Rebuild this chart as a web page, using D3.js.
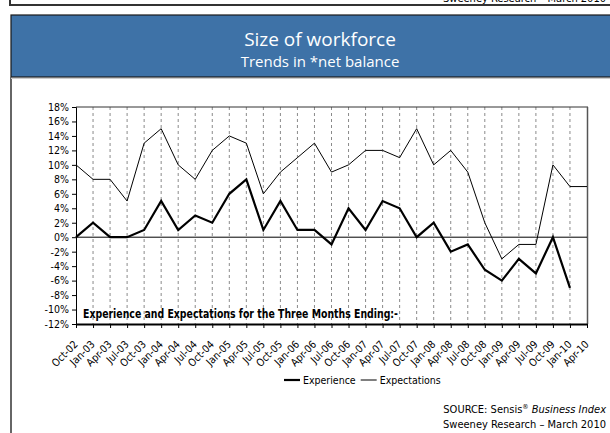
<!DOCTYPE html>
<html>
<head>
<meta charset="utf-8">
<script src="https://cdn.jsdelivr.net/npm/d3@7"></script>
<style>
  body { margin: 0; background: #fff; }
  svg { display: block; }
  .cond { font-family: "Liberation Sans Narrow", "DejaVu Sans Condensed", "Roboto", sans-serif; }
</style>
</head>
<body>
<div id="chart"></div>
<script>
// quarterly categories, Oct-02 .. Apr-10
const categories = ['Oct-02','Jan-03','Apr-03','Jul-03','Oct-03','Jan-04','Apr-04','Jul-04','Oct-04',
  'Jan-05','Apr-05','Jul-05','Oct-05','Jan-06','Apr-06','Jul-06','Oct-06','Jan-07','Apr-07','Jul-07',
  'Oct-07','Jan-08','Apr-08','Jul-08','Oct-08','Jan-09','Apr-09','Jul-09','Oct-09','Jan-10','Apr-10'];

const experience = [0, 2, 0, 0, 1, 5, 1, 3, 2, 6, 8, 1, 5, 1, 1, -1, 4, 1, 5, 4,
  0, 2, -2, -1, -4.5, -6, -3, -5, 0, -7, null];

const expectations = [10, 8, 8, 5, 13, 15, 10, 8, 12, 14, 13, 6, 9, 11, 13, 9, 10, 12, 12, 11,
  15, 10, 12, 9, 2, -3, -1, -1, 10, 7, 7];

const yTicks = [-12, -10, -8, -6, -4, -2, 0, 2, 4, 6, 8, 10, 12, 14, 16, 18];

const W = 610, H = 433;
const svg = d3.select('#chart').append('svg')
  .attr('width', W)
  .attr('height', H);

// previous slide's footer strip at the very top
svg.append('rect')
  .attr('x', 10).attr('y', -10).attr('width', 610).attr('height', 15)
  .attr('fill', '#fff').attr('stroke', '#333').attr('stroke-width', 2);
svg.append('text')
  .attr('class', 'cond')
  .attr('x', 606).attr('y', 2)
  .attr('text-anchor', 'end')
  .attr('font-size', 11)
  .text('Sweeney Research – March 2010');

// header band
svg.append('rect')
  .attr('x', 11).attr('y', 15).attr('width', 610).attr('height', 62)
  .attr('fill', '#3e72a7').attr('stroke', '#1a1a1a').attr('stroke-width', 1.2);
svg.append('text')
  .attr('x', 320).attr('y', 46)
  .attr('text-anchor', 'middle')
  .attr('fill', '#fff')
  .attr('font-family', 'Open Sans, sans-serif')
  .attr('font-size', 19)
  .text('Size of workforce');
svg.append('text')
  .attr('x', 320).attr('y', 67)
  .attr('text-anchor', 'middle')
  .attr('fill', '#fff')
  .attr('font-family', 'Open Sans, sans-serif')
  .attr('font-size', 15)
  .text('Trends in *net balance');

// panel left border + faint line under header
svg.append('line')
  .attr('x1', 11).attr('x2', 11).attr('y1', 77).attr('y2', H)
  .attr('stroke', '#666').attr('stroke-width', 2);
svg.append('line')
  .attr('x1', 11).attr('x2', W).attr('y1', 78.5).attr('y2', 78.5)
  .attr('stroke', '#ccc').attr('stroke-width', 1);

// scales
const x = d3.scalePoint()
  .domain(categories)
  .range([76, 587]);

const y = d3.scaleLinear()
  .domain([-12, 18])
  .range([324, 107]);

// vertical dashed gridlines
svg.append('g')
  .selectAll('line')
  .data(categories.slice(1, -1))
  .enter().append('line')
  .attr('x1', d => x(d)).attr('x2', d => x(d))
  .attr('y1', y(18)).attr('y2', y(-12))
  .attr('stroke', '#8a8a8a')
  .attr('stroke-width', 1)
  .attr('stroke-dasharray', '3,3');

// frame top + right
svg.append('line')
  .attr('x1', 76).attr('x2', 588).attr('y1', y(18)).attr('y2', y(18))
  .attr('stroke', '#333').attr('stroke-width', 1);
svg.append('line')
  .attr('x1', 587.5).attr('x2', 587.5).attr('y1', y(18)).attr('y2', y(-12))
  .attr('stroke', '#555').attr('stroke-width', 1.5);

// zero line
svg.append('line')
  .attr('x1', 76).attr('x2', 587).attr('y1', y(0)).attr('y2', y(0))
  .attr('stroke', '#000').attr('stroke-width', 1);

// annotation
svg.append('text')
  .attr('class', 'cond')
  .attr('x', 83).attr('y', 318)
  .attr('font-size', 12.5)
  .attr('font-weight', 'bold')
  .attr('textLength', 315)
  .attr('lengthAdjust', 'spacingAndGlyphs')
  .text('Experience and Expectations for the Three Months Ending:-');

// y axis
const yAxis = svg.append('g')
  .attr('transform', 'translate(76,0)')
  .call(d3.axisLeft(y).tickValues(yTicks).tickSize(4).tickPadding(3).tickFormat(d => d + '%'));
yAxis.selectAll('text')
  .attr('class', 'cond')
  .attr('font-size', 10.5)
  .attr('fill', '#000');
yAxis.selectAll('line, path').attr('stroke', '#000');

// x axis
const xAxis = svg.append('g')
  .attr('transform', `translate(0,${y(-12)})`)
  .call(d3.axisBottom(x).tickSize(4).tickSizeOuter(0));
xAxis.select('.domain').attr('stroke', '#000').attr('stroke-width', 2.2);
xAxis.selectAll('line').attr('stroke', '#000');
xAxis.selectAll('text')
  .attr('class', 'cond')
  .attr('font-size', 10.5)
  .attr('fill', '#000')
  .attr('text-anchor', 'end')
  .attr('dy', null)
  .attr('y', 0)
  .attr('transform', 'translate(2,21) rotate(-45)');

// series lines
const line = d3.line()
  .defined(d => d.v != null)
  .x(d => x(d.c))
  .y(d => y(d.v));

svg.append('path')
  .datum(categories.map((c, i) => ({ c, v: expectations[i] })))
  .attr('d', line)
  .attr('fill', 'none')
  .attr('stroke', '#000')
  .attr('stroke-width', 1);

svg.append('path')
  .datum(categories.map((c, i) => ({ c, v: experience[i] })))
  .attr('d', line)
  .attr('fill', 'none')
  .attr('stroke', '#000')
  .attr('stroke-width', 2.2)
  .attr('stroke-linejoin', 'miter');

// legend
const legend = [
  { name: 'Experience', w: 2.2 },
  { name: 'Expectations', w: 1 }
];
const lg = svg.append('g').attr('transform', 'translate(284,380)');
let lx = 0;
legend.forEach(s => {
  lg.append('line')
    .attr('x1', lx).attr('x2', lx + 16).attr('y1', 0).attr('y2', 0)
    .attr('stroke', '#000').attr('stroke-width', s.w);
  const t = lg.append('text')
    .attr('class', 'cond')
    .attr('x', lx + 19).attr('y', 4)
    .attr('font-size', 10.5)
    .text(s.name);
  lx += 19 + t.node().getComputedTextLength() + 5;
});

// source note
const src = svg.append('text')
  .attr('class', 'cond')
  .attr('x', 606).attr('y', 413)
  .attr('text-anchor', 'end')
  .attr('font-size', 11);
src.append('tspan').text('SOURCE: Sensis');
src.append('tspan').attr('font-size', 7).attr('dy', -4).text('®');
src.append('tspan').attr('dy', 4).text(' ');
src.append('tspan').attr('font-style', 'italic').text('Business Index');

svg.append('text')
  .attr('class', 'cond')
  .attr('x', 606).attr('y', 428)
  .attr('text-anchor', 'end')
  .attr('font-size', 11)
  .text('Sweeney Research – March 2010');
</script>
</body>
</html>
